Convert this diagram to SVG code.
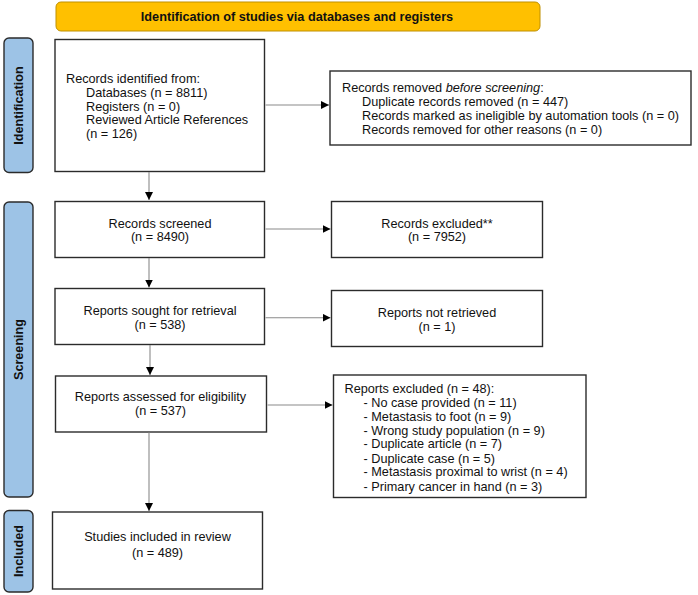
<svg xmlns="http://www.w3.org/2000/svg" width="698" height="595" viewBox="0 0 698 595">
<defs>
<marker id="ah" viewBox="0 0 10 10" refX="10" refY="5" markerWidth="8" markerHeight="8" markerUnits="userSpaceOnUse" orient="auto">
<path d="M0,0 L10,5 L0,10 z" fill="#000"/>
</marker>
<style>
.box{fill:#fff;stroke:#2b2b2b;stroke-width:1.4}
.bar{fill:#9DC3E6;stroke:#2b2b2b;stroke-width:1.4}
.t{font-family:"Liberation Sans",Arial,sans-serif;font-size:12.7px;fill:#111}
.c{text-anchor:middle}
.bl{font-family:"Liberation Sans",Arial,sans-serif;font-size:12.6px;font-weight:bold;fill:#111;text-anchor:middle}
.con{stroke:#8a8a8a;stroke-width:1.1;fill:none;marker-end:url(#ah)}
</style>
</defs>
<rect width="698" height="595" fill="#fff"/>

<g id="banner">
<rect x="56" y="2" width="484" height="29" rx="5" fill="#FFC000" stroke="#BF9000" stroke-width="1"/>
<text class="t" x="297" y="21" text-anchor="middle" font-weight="bold">Identification of studies via databases and registers</text>
</g>

<g id="bar-identification">
<rect class="bar" x="4" y="38" width="29" height="134.5" rx="5"/>
<text class="bl" transform="translate(23,105.5) rotate(-90)">Identification</text>
</g>
<g id="bar-screening">
<rect class="bar" x="4" y="202" width="29" height="295" rx="5"/>
<text class="bl" transform="translate(23,349.5) rotate(-90)">Screening</text>
</g>
<g id="bar-included">
<rect class="bar" x="4" y="510.5" width="29" height="81.5" rx="5"/>
<text class="bl" transform="translate(23,551) rotate(-90)">Included</text>
</g>

<g id="records-identified">
<rect class="box" x="55" y="39.5" width="209.5" height="132"/>
<text class="t" x="66" y="83.4">Records identified from:</text>
<text class="t" x="86" y="97">Databases (n = 8811)</text>
<text class="t" x="86" y="110.6">Registers (n = 0)</text>
<text class="t" x="86" y="124.2">Reviewed Article References</text>
<text class="t" x="86" y="137.8">(n = 126)</text>
</g>

<g id="records-removed">
<rect class="box" x="330" y="71" width="361" height="74"/>
<text class="t" x="342" y="91.7">Records removed <tspan font-style="italic">before screening</tspan>:</text>
<text class="t" x="362" y="105.5">Duplicate records removed (n = 447)</text>
<text class="t" x="362" y="119.8">Records marked as ineligible by automation tools (n = 0)</text>
<text class="t" x="362" y="133.7">Records removed for other reasons (n = 0)</text>
</g>

<g id="records-screened">
<rect class="box" x="55" y="201.5" width="209.5" height="56"/>
<text class="t c" x="160" y="227.7">Records screened</text>
<text class="t c" x="160" y="241.3">(n = 8490)</text>
</g>

<g id="records-excluded">
<rect class="box" x="331.5" y="201.5" width="211" height="56"/>
<text class="t c" x="437" y="227.7">Records excluded**</text>
<text class="t c" x="437" y="241.3">(n = 7952)</text>
</g>

<g id="reports-sought">
<rect class="box" x="55" y="288.5" width="209.5" height="56"/>
<text class="t c" x="160" y="315">Reports sought for retrieval</text>
<text class="t c" x="160" y="329">(n = 538)</text>
</g>

<g id="reports-not-retrieved">
<rect class="box" x="331.5" y="290.5" width="211" height="56"/>
<text class="t c" x="437" y="316.7">Reports not retrieved</text>
<text class="t c" x="437" y="331">(n = 1)</text>
</g>

<g id="reports-assessed">
<rect class="box" x="55.5" y="376" width="211" height="56"/>
<text class="t c" x="160.5" y="401">Reports assessed for eligibility</text>
<text class="t c" x="160.5" y="415">(n = 537)</text>
</g>

<g id="reports-excluded">
<rect class="box" x="333.5" y="375" width="252.5" height="122.5"/>
<text class="t" x="344.5" y="392.7">Reports excluded (n = 48):</text>
<text class="t" x="363.5" y="406.9">- No case provided (n = 11)</text>
<text class="t" x="363.5" y="420.5">- Metastasis to foot (n = 9)</text>
<text class="t" x="363.5" y="434.9">- Wrong study population (n = 9)</text>
<text class="t" x="363.5" y="448.3">- Duplicate article (n = 7)</text>
<text class="t" x="363.5" y="462.7">- Duplicate case (n = 5)</text>
<text class="t" x="363.5" y="476.3">- Metastasis proximal to wrist (n = 4)</text>
<text class="t" x="363.5" y="490.5">- Primary cancer in hand (n = 3)</text>
</g>

<g id="studies-included">
<rect class="box" x="52.5" y="512" width="210" height="77"/>
<text class="t c" x="157.5" y="541">Studies included in review</text>
<text class="t c" x="157.5" y="556.5">(n = 489)</text>
</g>

<g id="connectors">
<line class="con" x1="149" y1="172" x2="149" y2="200"/>
<line class="con" x1="149" y1="258" x2="149" y2="287.5"/>
<line class="con" x1="150" y1="345" x2="150" y2="375"/>
<line class="con" x1="149" y1="432.5" x2="149" y2="511"/>
<line class="con" x1="265.5" y1="105" x2="329" y2="105"/>
<line class="con" x1="265.5" y1="229" x2="330.5" y2="229"/>
<line class="con" x1="265.5" y1="317.7" x2="330.5" y2="317.7"/>
<line class="con" x1="267.5" y1="405" x2="332.5" y2="405"/>
</g>
</svg>
